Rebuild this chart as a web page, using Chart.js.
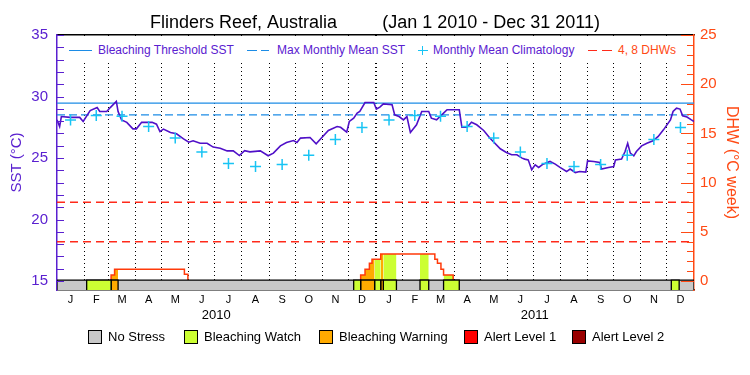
<!DOCTYPE html>
<html lang="en">
<head>
  <meta charset="UTF-8" />
  <title>Flinders Reef, Australia - SST and DHW</title>
  <script src="https://cdn.jsdelivr.net/npm/chart.js"></script>
  <style>
    body { margin: 0; background: #fff; font-family: "Liberation Sans", Arial, sans-serif; }
    .wrap { position: relative; width: 750px; height: 375px; }
    /* legend inside the plot, white band hides the dotted month lines */
    .top-legend { position: absolute; left: 65px; top: 37px; width: 616px; height: 26px; background: #fff; }
    .top-legend .txt { position: absolute; top: 6px; font-size: 12px; line-height: 14px; white-space: nowrap; color: #5a20d0; }
    .seg { position: absolute; height: 0; border-top: 1.5px solid; }
    .vseg { position: absolute; width: 0; border-left: 1.5px solid; }
    .bottom-legend .box { position: absolute; top: 330px; width: 14px; height: 14px; box-sizing: border-box; border: 1px solid #000; }
    .bottom-legend .txt { position: absolute; top: 329px; font-size: 13px; line-height: 15px; white-space: nowrap; color: #000; }
  </style>
</head>
<body>
<div class="wrap">
  <canvas id="reefChart" width="750" height="375"></canvas>

  <!-- legend for the lines -->
  <div class="top-legend">
    <div class="seg" style="left:4px; top:13px; width:23px; border-color:#1c8ce6;"></div>
    <span class="txt" style="left:33px;">Bleaching Threshold SST</span>
    <div class="seg" style="left:182px; top:13px; width:10px; border-color:#1c8ce6;"></div>
    <div class="seg" style="left:196px; top:13px; width:8px; border-color:#1c8ce6;"></div>
    <span class="txt" style="left:212px;">Max Monthly Mean SST</span>
    <div class="seg" style="left:353px; top:13px; width:10px; border-color:#18c4f4;"></div>
    <div class="vseg" style="left:357px; top:9px; height:9px; border-color:#18c4f4;"></div>
    <span class="txt" style="left:368px;">Monthly Mean Climatology</span>
    <div class="seg" style="left:523px; top:13px; width:9px; border-color:#ff2a1a;"></div>
    <div class="seg" style="left:537px; top:13px; width:10px; border-color:#ff2a1a;"></div>
    <span class="txt" style="left:553px; color:#ff4a14;">4, 8 DHWs</span>
  </div>

  <!-- stress level legend -->
  <div class="bottom-legend" id="stressLegend"></div>
</div>

<script>
  // ---- data ----
  // days counted from Jan 1 2010
  const sstDay = [0, 3, 5, 15, 26, 30, 38, 46, 49, 57, 61, 68, 70, 74, 80, 87, 91, 97, 109, 114,
    118, 122, 130, 137, 145, 151, 156, 164, 172, 179, 187, 195, 202, 209, 215, 221, 233, 242, 248, 256,
    263, 271, 275, 279, 290, 297, 303, 311, 321, 325, 332, 335, 340, 344, 347, 353, 363, 366, 370, 374,
    384, 387, 392, 397, 401, 405, 412, 418, 426, 429, 435, 443, 447, 461, 464, 470, 475, 481, 489, 496,
    508, 515, 521, 527, 533, 536, 540, 544, 548, 552, 557, 565, 571, 576, 584, 588, 594, 599, 606, 608,
    615, 622, 624, 632, 638, 640, 647, 651, 654, 657, 661, 664, 670, 676, 683, 689, 695, 703, 706, 710,
    714, 717, 722, 727, 730];
  const sstVal = [28.1, 27.56, 28.37, 28.3, 28.3, 27.97, 28.86, 29.1, 28.78, 28.78, 29.1, 29.6, 28.78, 28.1, 27.9, 27.37, 27.37, 27.9, 27.9, 27.75,
    27.15, 27.35, 27.07, 26.97, 26.56, 26.29, 26.4, 26.2, 26.2, 25.89, 25.8, 25.58, 25.58, 25.2, 25.6, 25.5, 25.58, 25.18, 25.4, 25.99,
    26.26, 26.42, 26.26, 26.62, 26.67, 26.15, 26.62, 27.24, 27.56, 27.5, 27.1, 27.97, 28.24, 28.65, 28.78, 29.51, 29.51, 28.98, 29.14, 29.4,
    29.33, 28.51, 28.37, 28.1, 28.37, 27.07, 27.7, 28.78, 28.78, 28.24, 28.1, 28.65, 28.92, 28.92, 27.5, 27.5, 27.9, 27.7, 27.24, 26.62,
    25.75, 25.45, 25.26, 25.26, 24.99, 24.91, 24.85, 24.04, 24.45, 24.23, 24.5, 24.72, 24.5, 24.26, 23.9, 24.1, 23.82, 23.9, 23.85, 24.77,
    24.72, 24.63, 24.1, 24.23, 24.31, 24.85, 24.91, 25.53, 26.2, 25.4, 25.18, 25.53, 25.99, 26.2, 26.4, 26.75, 27.29, 28.1, 28.78, 29.05,
    28.98, 28.43, 28.33, 28.1, 27.97];

  const climVal = [28.1, 28.46, 28.4, 27.56, 26.62, 25.48, 24.56, 24.31, 24.48, 25.22, 26.5, 27.48];

  const dhwDay = [0, 62, 66, 146, 150, 348, 353, 358, 361, 371, 433, 436, 440, 443, 454, 730];
  const dhwVal = [0, 0.6, 1.2, 0.7, 0, 0.6, 1.2, 1.8, 2.2, 2.75, 2.2, 1.8, 1.2, 0.6, 0, 0];

  const thresholdSST = 29.46;
  const mmmSST = 28.5;
  const dhwLevels = [4, 8];

  // stress periods: 1 watch, 2 warning
  const stressStart = [34, 62, 340, 348, 364, 371, 374, 416, 443, 704];
  const stressEnd = [62, 70, 348, 364, 371, 374, 389, 426, 461, 713];
  const stressLevel = [1, 2, 1, 2, 1, 2, 1, 1, 1, 1];
  const stressNames = ['No Stress', 'Bleaching Watch', 'Bleaching Warning', 'Alert Level 1', 'Alert Level 2'];

  const monthEdges = [0, 31, 59, 90, 120, 151, 181, 212, 243, 273, 304, 334, 365,
    396, 424, 455, 485, 516, 546, 577, 608, 638, 669, 699, 730];
  const monthLabels = ['J', 'F', 'M', 'A', 'M', 'J', 'J', 'A', 'S', 'O', 'N', 'D'];
  const yearLabels = ['2010', '2011'];
  const sstTickLabels = [15, 20, 25, 30, 35];
  const dhwTickLabels = [0, 5, 10, 15, 20, 25];

  // ---- styles ----
  const purple = '#5a20d0';
  const orange = '#ff4a14';
  const stressColors = ['#c8c8c8', '#ccff33', '#ffaa00', '#ff0000', '#990000'];
  const sstMin = 14.27, sstMax = 35, dhwMin = -0.9125, dhwMax = 25;
  const barTop = 15.08;

  Chart.defaults.font.family = "'Liberation Sans', Arial, sans-serif";

  // helpers
  const monthMid = monthEdges.slice(0, -1).map((d, i) => (d + monthEdges[i + 1]) / 2);
  const gridDays = monthEdges.slice(1, -1);
  const yearMid = [182.5, 547.5];
  const minorSteps = (lo, hi) => { const a = []; for (let v = lo; v <= hi; v++) a.push(v); return a; };

  function dhwAt(d) {
    let v = 0;
    dhwDay.forEach((k, i) => { if (k <= d) v = dhwVal[i]; });
    return v;
  }
  function dhwStepPoints(s, e) {
    const pts = [{ x: s, y: dhwAt(s) }];
    dhwDay.forEach((d, i) => { if (d > s && d < e) pts.push({ x: d, y: dhwVal[i] }); });
    pts.push({ x: e, y: dhwAt(e - 0.01) });
    return pts;
  }
  const hline = (v) => [{ x: 0, y: v }, { x: 730, y: v }];
  const barRect = (s, e) => [{ x: s, y: sstMin }, { x: s, y: barTop }, { x: e, y: barTop }, { x: e, y: sstMin }];

  // ---- datasets ----
  const datasets = [];

  stressStart.forEach((s, i) => {
    datasets.push({
      data: barRect(s, stressEnd[i]), yAxisID: 'y', order: 0,
      borderColor: '#000', borderWidth: 1.3, backgroundColor: stressColors[stressLevel[i]],
      fill: 'start', pointRadius: 0
    });
  });
  datasets.push({
    data: barRect(0, 730), yAxisID: 'y', order: 1,
    borderColor: '#000', borderWidth: 1.3, backgroundColor: stressColors[0], fill: 'start', pointRadius: 0
  });

  datasets.push({
    data: monthMid.map((d, i) => ({ x: d, y: climVal[i % 12] })), yAxisID: 'y', order: 2,
    showLine: false, pointStyle: 'cross', pointRadius: 5.5, pointBorderWidth: 1.5,
    pointBorderColor: '#18c4f4', borderColor: '#18c4f4'
  });

  datasets.push({
    data: sstDay.map((d, i) => ({ x: d, y: sstVal[i] })), yAxisID: 'y', order: 3,
    borderColor: '#5010c8', borderWidth: 1.6, pointRadius: 0, fill: false
  });

  datasets.push({
    data: dhwDay.map((d, i) => ({ x: d, y: dhwVal[i] })), yAxisID: 'y2', order: 4,
    stepped: true, borderColor: '#ff3a0a', borderWidth: 1.5, pointRadius: 0, fill: false
  });

  stressStart.forEach((s, i) => {
    datasets.push({
      data: dhwStepPoints(s, stressEnd[i]), yAxisID: 'y2', order: 5,
      stepped: true, borderWidth: 0, borderColor: 'rgba(0,0,0,0)',
      backgroundColor: stressColors[stressLevel[i]], fill: 'origin', pointRadius: 0
    });
  });

  datasets.push({ data: hline(thresholdSST), yAxisID: 'y', order: 6, borderColor: '#1c8ce6', borderWidth: 1.2, pointRadius: 0, fill: false });
  datasets.push({ data: hline(mmmSST), yAxisID: 'y', order: 6, borderColor: '#1c8ce6', borderWidth: 1.3, borderDash: [8, 4], pointRadius: 0, fill: false });
  dhwLevels.forEach(v => {
    datasets.push({ data: hline(v), yAxisID: 'y2', order: 6, borderColor: '#ff2a1a', borderWidth: 1.5, borderDash: [8, 5], pointRadius: 0, fill: false });
  });

  // tick marks pointing into the plot
  const inwardTicks = {
    id: 'inwardTicks',
    afterDatasetsDraw(chart) {
      const c = chart.ctx, area = chart.chartArea;
      [['y', area.left, 1, purple], ['y2', area.right, -1, orange]].forEach(([id, x0, dir, col]) => {
        const sc = chart.scales[id];
        c.save();
        c.strokeStyle = col;
        c.lineWidth = 1;
        sc.ticks.forEach(t => {
          const y = Math.round(sc.getPixelForValue(t.value)) + 0.5;
          const len = (id === 'y2' && t.value % 5 === 0) ? 13 : 7;
          c.beginPath();
          c.moveTo(x0, y);
          c.lineTo(x0 + dir * len, y);
          c.stroke();
        });
        c.restore();
      });
    }
  };

  new Chart(document.getElementById('reefChart').getContext('2d'), {
    type: 'line',
    data: { datasets },
    options: {
      responsive: false,
      animation: false,
      events: [],
      layout: { padding: { left: 0, right: 0, top: 0, bottom: 49 } },
      plugins: {
        legend: { display: false },
        tooltip: { enabled: false },
        title: {
          display: true,
          text: 'Flinders Reef, Australia         (Jan 1 2010 - Dec 31 2011)',
          color: '#000',
          font: { size: 18, weight: 'normal' },
          padding: { top: 12, bottom: 1.4 }
        }
      },
      scales: {
        x: {
          type: 'linear', position: 'bottom', min: 0, max: 730, weight: 0,
          afterBuildTicks: s => { s.ticks = gridDays.map(v => ({ value: v })); },
          afterFit: s => { s.height = 0; },
          ticks: { display: false },
          grid: { color: '#000', drawTicks: false, lineWidth: c => (c.tick && c.tick.value === 365 ? 2 : 1) },
          border: { color: '#000', width: 1.5, dash: [1, 3] }
        },
        xm: {
          type: 'linear', position: 'bottom', min: 0, max: 730, weight: 1,
          afterBuildTicks: s => { s.ticks = monthMid.map(v => ({ value: v })); },
          afterFit: s => { s.height = 18; },
          ticks: { autoSkip: false, maxRotation: 0, padding: 3, color: '#000', font: { size: 11 },
            callback: (v, i) => monthLabels[i % 12] },
          grid: { display: false, drawTicks: false },
          border: { display: false }
        },
        xy: {
          type: 'linear', position: 'bottom', min: 0, max: 730, weight: 2,
          afterBuildTicks: s => { s.ticks = yearMid.map(v => ({ value: v })); },
          afterFit: s => { s.height = 18; },
          ticks: { autoSkip: false, maxRotation: 0, padding: 0, color: '#000', font: { size: 13 },
            callback: (v, i) => yearLabels[i] },
          grid: { display: false, drawTicks: false },
          border: { display: false }
        },
        xTop: {
          type: 'linear', position: 'top', min: 0, max: 730,
          afterFit: s => { s.height = 0; },
          ticks: { display: false },
          grid: { display: false, drawTicks: false },
          border: { color: '#000', width: 1.5 }
        },
        y: {
          position: 'left', min: sstMin, max: sstMax,
          afterBuildTicks: s => { s.ticks = minorSteps(sstTickLabels[0], sstTickLabels[sstTickLabels.length - 1]).map(v => ({ value: v })); },
          afterFit: s => { s.width = 57; },
          ticks: { autoSkip: false, padding: 9, color: purple, font: { size: 15 },
            callback: v => (sstTickLabels.includes(v) ? v : '') },
          grid: { drawOnChartArea: false, drawTicks: false },
          border: { color: purple, width: 1.5 },
          title: { display: true, text: 'SST (°C)', color: purple, font: { size: 15 }, padding: { top: 8, bottom: 0 } }
        },
        y2: {
          position: 'right', min: dhwMin, max: dhwMax,
          afterBuildTicks: s => { s.ticks = minorSteps(dhwTickLabels[0], dhwTickLabels[dhwTickLabels.length - 1]).map(v => ({ value: v })); },
          afterFit: s => { s.width = 56; },
          ticks: { autoSkip: false, padding: 6, color: orange, font: { size: 15 },
            callback: v => (dhwTickLabels.includes(v) ? v : '') },
          grid: { drawOnChartArea: false, drawTicks: false },
          border: { color: orange, width: 1.5 },
          title: { display: true, text: 'DHW (°C week)', color: orange, font: { size: 16 }, padding: { top: 9, bottom: 0 } }
        }
      }
    },
    plugins: [inwardTicks]
  });

  // stress level legend
  const legendBoxX = [88, 184, 319, 464, 572];
  const legendEl = document.getElementById('stressLegend');
  stressNames.forEach((name, i) => {
    const box = document.createElement('div');
    box.className = 'box';
    box.style.left = legendBoxX[i] + 'px';
    box.style.background = stressColors[i];
    legendEl.appendChild(box);
    const txt = document.createElement('span');
    txt.className = 'txt';
    txt.style.left = (legendBoxX[i] + 20) + 'px';
    txt.textContent = name;
    legendEl.appendChild(txt);
  });
</script>
</body>
</html>
